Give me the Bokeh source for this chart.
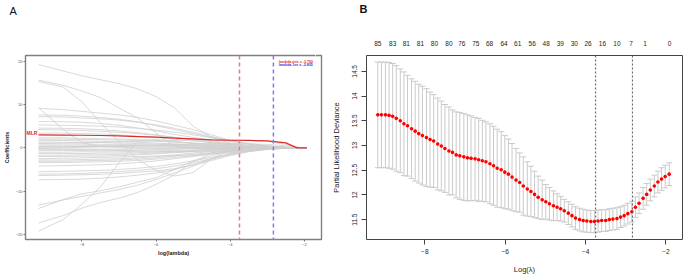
from bokeh.plotting import figure
from bokeh.layouts import row
from bokeh.models import Span, Label, LinearAxis, FixedTicker, Range1d, Title
from bokeh.embed import file_html
from bokeh.resources import INLINE

# ---------------- Panel A: coefficient paths ----------------
path_loglambda = [-9.17, -8.5, -8.0, -7.5, -7.0, -6.5, -6.0, -5.5, -5.0, -4.5, -4.0, -3.5, -3.0, -2.5, -2.2, -1.93]

mlr_coef = [3.0, 2.95, 2.9, 2.85, 2.75, 2.6, 2.45, 2.25, 2.05, 1.85, 1.75, 1.7, 1.6, 1.15, 0.0, 0.0]

coef_l1 = [19.2, 17.7, 16.6, 15.7, 14.8, 13.6, 11.8, 9.2, 5.0, 2.4, 1.1, 0.5, 0.2, 0.0, 0.0, 0.0]
coef_l2 = [15.6, 14.4, 13.1, 11.6, 9.2, 6.9, 3.4, 0.3, 0.0, 0.0, 0.0, 0.0, 0.0, 0.0, 0.0, 0.0]
coef_l3 = [15.3, 14.0, 10.6, 5.8, 1.4, -2.7, -5.2, -6.5, -5.7, -2.5, -0.5, 0.0, 0.0, 0.0, 0.0, 0.0]
coef_l4 = [9.25, 4.2, 1.2, 0.3, 0.1, 0.0, 0.0, 0.0, 0.0, 0.0, 0.0, 0.0, 0.0, 0.0, 0.0, 0.0]
coef_l5 = [9.1, 8.8, 8.4, 8.0, 7.6, 7.0, 6.2, 5.2, 4.2, 3.0, 1.7, 0.9, 0.4, 0.1, 0.0, 0.0]
coef_p1 = [7.6, 7.5, 7.3, 7.0, 6.6, 6.0, 5.1, 4.2, 3.3, 2.4, 1.5, 0.8, 0.3, 0.0, 0.0, 0.0]
coef_p2 = [7.2, 7.1, 6.9, 6.7, 6.4, 5.9, 5.3, 4.5, 3.6, 2.6, 1.7, 0.9, 0.4, 0.1, 0.0, 0.0]
coef_p3 = [6.1, 6.0, 5.9, 5.6, 5.2, 4.6, 3.9, 3.1, 2.4, 1.7, 1.0, 0.5, 0.2, 0.0, 0.0, 0.0]
coef_p4 = [5.3, 5.2, 5.1, 5.0, 4.8, 4.5, 4.1, 3.6, 3.0, 2.3, 1.6, 1.0, 0.5, 0.1, 0.0, 0.0]
coef_p5 = [4.55, 4.5, 4.4, 4.2, 3.9, 3.5, 3.0, 2.4, 1.8, 1.2, 0.7, 0.3, 0.1, 0.0, 0.0, 0.0]
coef_p6 = [4.2, 4.1, 4.0, 3.8, 3.6, 3.3, 2.9, 2.4, 1.9, 1.4, 0.9, 0.5, 0.2, 0.0, 0.0, 0.0]
coef_p7 = [3.4, 3.4, 3.3, 3.2, 3.0, 2.7, 2.4, 2.0, 1.6, 1.2, 0.8, 0.5, 0.2, 0.0, 0.0, 0.0]
coef_p8 = [2.3, 2.3, 2.2, 2.1, 2.0, 1.9, 1.7, 1.4, 1.1, 0.8, 0.5, 0.3, 0.1, 0.0, 0.0, 0.0]
coef_p9 = [2.0, 2.0, 1.9, 1.9, 1.8, 1.7, 1.5, 1.3, 1.1, 0.9, 0.7, 0.5, 0.3, 0.1, 0.0, 0.0]
coef_p10 = [1.7, 1.7, 1.6, 1.5, 1.4, 1.3, 1.1, 0.9, 0.7, 0.5, 0.3, 0.1, 0.0, 0.0, 0.0, 0.0]
coef_p11 = [1.3, 1.3, 1.2, 1.2, 1.1, 1.0, 0.9, 0.8, 0.7, 0.6, 0.5, 0.4, 0.3, 0.1, 0.0, 0.0]
coef_p12 = [0.9, 0.9, 0.9, 0.8, 0.8, 0.7, 0.6, 0.5, 0.4, 0.3, 0.2, 0.1, 0.0, 0.0, 0.0, 0.0]
coef_p13 = [0.6, 0.6, 0.6, 0.5, 0.5, 0.5, 0.4, 0.4, 0.3, 0.2, 0.1, 0.0, 0.0, 0.0, 0.0, 0.0]
coef_p14 = [0.3, 0.3, 0.3, 0.3, 0.3, 0.2, 0.2, 0.2, 0.1, 0.1, 0.0, 0.0, 0.0, 0.0, 0.0, 0.0]
coef_q1 = [1.0, 1.1, 1.2, 1.3, 1.4, 1.5, 1.6, 1.7, 1.8, 1.8, 1.8, 1.7, 1.5, 0.8, 0.2, 0.0]
coef_q3 = [0.1, 0.2, 0.3, 0.4, 0.5, 0.6, 0.7, 0.8, 0.9, 1.0, 1.0, 0.9, 0.8, 0.5, 0.1, 0.0]
coef_q4 = [-0.1, 0.0, 0.1, 0.2, 0.3, 0.4, 0.5, 0.5, 0.6, 0.6, 0.6, 0.5, 0.4, 0.2, 0.0, 0.0]
coef_n1 = [-0.3, -0.3, -0.3, -0.3, -0.3, -0.2, -0.2, -0.2, -0.1, -0.1, 0.0, 0.0, 0.0, 0.0, 0.0, 0.0]
coef_n2 = [-0.6, -0.6, -0.6, -0.5, -0.5, -0.5, -0.4, -0.3, -0.2, -0.1, 0.0, 0.0, 0.0, 0.0, 0.0, 0.0]
coef_n3 = [-1.0, -1.0, -0.9, -0.9, -0.9, -0.8, -0.7, -0.6, -0.5, -0.3, -0.2, -0.1, 0.0, 0.0, 0.0, 0.0]
coef_n4 = [-1.3, -1.3, -1.3, -1.2, -1.2, -1.1, -1.0, -0.8, -0.6, -0.4, -0.2, -0.1, 0.0, 0.0, 0.0, 0.0]
coef_n5 = [-1.7, -1.7, -1.6, -1.6, -1.5, -1.4, -1.2, -1.0, -0.8, -0.6, -0.4, -0.2, -0.1, 0.0, 0.0, 0.0]
coef_n6 = [-2.0, -2.0, -1.9, -1.9, -1.8, -1.6, -1.4, -1.1, -0.8, -0.5, -0.3, -0.1, 0.0, 0.0, 0.0, 0.0]
coef_n7 = [-2.8, -2.8, -2.7, -2.6, -2.5, -2.3, -2.0, -1.6, -1.2, -0.8, -0.5, -0.2, 0.0, 0.0, 0.0, 0.0]
coef_n8 = [-3.1, -3.1, -3.0, -2.9, -2.8, -2.6, -2.3, -1.9, -1.5, -1.1, -0.7, -0.3, -0.1, 0.0, 0.0, 0.0]
coef_n9 = [-3.4, -3.4, -3.3, -3.2, -3.1, -2.9, -2.6, -2.2, -1.8, -1.3, -0.8, -0.4, -0.1, 0.0, 0.0, 0.0]
coef_n10 = [-4.2, -4.1, -4.0, -3.9, -3.7, -3.4, -3.0, -2.5, -2.0, -1.4, -0.9, -0.4, -0.1, 0.0, 0.0, 0.0]
coef_n11 = [-5.5, -5.4, -5.3, -5.2, -5.0, -4.7, -4.3, -3.7, -3.0, -2.2, -1.4, -0.7, -0.2, 0.0, 0.0, 0.0]
coef_n12 = [-6.05, -6.0, -5.9, -5.7, -5.5, -5.2, -4.8, -4.2, -3.4, -2.5, -1.6, -0.8, -0.3, 0.0, 0.0, 0.0]
coef_n13 = [-6.4, -6.3, -6.2, -6.1, -5.9, -5.6, -5.3, -4.8, -4.0, -2.9, -1.8, -0.9, -0.3, 0.0, 0.0, 0.0]
coef_n14 = [-7.35, -7.3, -7.2, -7.0, -6.7, -6.3, -5.8, -5.0, -3.8, -2.5, -1.4, -0.6, -0.2, 0.0, 0.0, 0.0]
coef_q2 = [-2.5, -2.4, -2.3, -2.2, -2.1, -2.0, -1.9, -1.8, -1.6, -1.4, -1.1, -0.8, -0.4, -0.1, 0.0, 0.0]
coef_q5 = [-0.2, -0.3, -0.4, -0.5, -0.6, -0.7, -0.8, -0.9, -0.9, -0.9, -0.8, -0.6, -0.3, -0.1, 0.0, 0.0]
coef_m1 = [-13.2, -12.0, -11.2, -10.4, -9.6, -8.6, -7.3, -5.8, -4.2, -2.6, -1.2, -0.3, 0.0, 0.0, 0.0, 0.0]
coef_m2 = [-17.3, -15.6, -13.9, -12.6, -11.6, -10.3, -8.4, -6.2, -3.2, -1.2, -0.3, 0.0, 0.0, 0.0, 0.0, 0.0]
coef_m3 = [-19.2, -16.5, -13.0, -9.0, -3.5, 1.5, 2.0, 1.5, 1.0, 0.6, 0.3, 0.1, 0.0, 0.0, 0.0, 0.0]
coef_m4 = [-14.0, -11.9, -10.6, -9.9, -9.0, -7.9, -6.9, -5.0, -3.0, -1.8, -0.8, -0.2, 0.0, 0.0, 0.0, 0.0]

gray_paths = [coef_l1, coef_l2, coef_l3, coef_l4, coef_l5,
              coef_p1, coef_p2, coef_p3, coef_p4, coef_p5, coef_p6, coef_p7,
              coef_p8, coef_p9, coef_p10, coef_p11, coef_p12, coef_p13, coef_p14,
              coef_q1, coef_q3, coef_q4,
              coef_n1, coef_n2, coef_n3, coef_n4, coef_n5, coef_n6, coef_n7,
              coef_n8, coef_n9, coef_n10, coef_n11, coef_n12, coef_n13, coef_n14,
              coef_q2, coef_q5, coef_m1, coef_m2, coef_m3, coef_m4]

lambda_min = -3.750
lambda_1se = -2.835

# ---------------- Panel B: cross-validation curve ----------------
cv_loglambda = [-9.17, -9.08, -8.98, -8.89, -8.80, -8.71, -8.61, -8.52, -8.43, -8.33,
                -8.24, -8.15, -8.06, -7.96, -7.87, -7.78, -7.68, -7.59, -7.50, -7.40,
                -7.31, -7.22, -7.13, -7.03, -6.94, -6.85, -6.75, -6.66, -6.57, -6.48,
                -6.38, -6.29, -6.20, -6.10, -6.01, -5.92, -5.83, -5.73, -5.64, -5.55,
                -5.45, -5.36, -5.27, -5.18, -5.08, -4.99, -4.90, -4.80, -4.71, -4.62,
                -4.53, -4.43, -4.34, -4.25, -4.15, -4.06, -3.97, -3.87, -3.78, -3.69,
                -3.60, -3.50, -3.41, -3.32, -3.22, -3.13, -3.04, -2.95, -2.85, -2.76,
                -2.67, -2.57, -2.48, -2.39, -2.29, -2.20, -2.11, -2.02, -1.92]
cv_mean = [13.62, 13.62, 13.62, 13.61, 13.59, 13.55, 13.50, 13.44, 13.40, 13.34,
           13.29, 13.24, 13.20, 13.16, 13.12, 13.09, 13.03, 12.99, 12.94, 12.89,
           12.86, 12.81, 12.79, 12.77, 12.75, 12.74, 12.73, 12.71, 12.69, 12.67,
           12.63, 12.59, 12.54, 12.51, 12.46, 12.42, 12.36, 12.30, 12.25, 12.18,
           12.12, 12.07, 12.01, 11.95, 11.90, 11.86, 11.82, 11.78, 11.75, 11.72,
           11.68, 11.63, 11.58, 11.53, 11.50, 11.48, 11.47, 11.46, 11.46, 11.47,
           11.48, 11.48, 11.50, 11.51, 11.52, 11.55, 11.58, 11.62, 11.66, 11.75,
           11.83, 11.93, 12.01, 12.10, 12.18, 12.26, 12.32, 12.37, 12.42]
cv_se = [1.07, 1.07, 1.07, 1.07, 1.07, 1.07, 1.05, 1.05, 1.02, 1.01,
         1.01, 1.00, 1.00, 0.99, 0.96, 0.94, 0.93, 0.91, 0.89, 0.89,
         0.86, 0.87, 0.88, 0.88, 0.87, 0.86, 0.84, 0.84, 0.82, 0.81,
         0.81, 0.80, 0.79, 0.77, 0.74, 0.71, 0.68, 0.64, 0.60, 0.59,
         0.55, 0.51, 0.47, 0.43, 0.40, 0.35, 0.33, 0.30, 0.27, 0.25,
         0.23, 0.23, 0.23, 0.23, 0.23, 0.23, 0.225, 0.225, 0.225, 0.225,
         0.22, 0.22, 0.22, 0.22, 0.22, 0.21, 0.21, 0.21, 0.21, 0.21,
         0.21, 0.22, 0.22, 0.22, 0.22, 0.22, 0.23, 0.23, 0.23]

nz_positions = [-9.17, -8.80, -8.46, -8.11, -7.76, -7.40, -7.08, -6.73, -6.39, -6.03,
                -5.69, -5.33, -4.98, -4.63, -4.28, -3.94, -3.58, -3.22, -2.87, -2.52, -1.91]
nz_labels = ["85", "83", "81", "81", "80", "80", "76", "75", "68", "64",
             "61", "56", "48", "39", "30", "26", "16", "10", "7", "1", "0"]


def spacer_axis(size, at):
    # axis with one invisible tick and an empty label: it only reserves room above the frame
    ax = LinearAxis(ticker=FixedTicker(ticks=[at]), major_label_overrides={at: ""})
    ax.axis_line_color = None
    ax.major_tick_out = size
    ax.major_tick_in = 0
    ax.major_tick_line_color = "white"
    ax.minor_tick_out = 0
    ax.minor_tick_in = 0
    ax.minor_tick_line_color = None
    ax.major_label_standoff = 0
    ax.major_label_text_font_size = "1px"
    ax.major_label_text_color = None
    return ax


# =================== Panel A figure ===================
FA = "Liberation Sans"
pA = figure(width=328, height=276, output_backend="svg", toolbar_location=None,
            x_range=Range1d(-9.521, -1.538), y_range=Range1d(-21.12, 21.28),
            min_border_left=20, min_border_right=7, min_border_top=53, min_border_bottom=36)
pA.background_fill_color = "white"
pA.border_fill_color = "white"
pA.outline_line_color = "#808080"
pA.outline_line_width = 1.4
pA.xgrid.visible = False
pA.ygrid.visible = False

pA.multi_line(xs=[path_loglambda] * len(gray_paths), ys=gray_paths,
              line_color="#cfcfcf", line_width=0.8)
pA.line(path_loglambda, mlr_coef, line_color="#dd2b2b", line_width=1.2)

pA.add_layout(Span(location=lambda_min, dimension="height", line_color="#f07a7a",
                   line_dash="4 3", line_width=1.5))
pA.add_layout(Span(location=lambda_1se, dimension="height", line_color="#7d7dee",
                   line_dash="4 3", line_width=1.5))

pA.xaxis.ticker = FixedTicker(ticks=[-8, -6, -4, -2])
pA.yaxis.ticker = FixedTicker(ticks=[-20, -10, 0, 10, 20])
for ax in (pA.xaxis, pA.yaxis):
    ax.axis_line_color = None
    ax.major_tick_line_color = "#777777"
    ax.major_tick_out = 2
    ax.major_tick_in = 0
    ax.minor_tick_line_color = None
    ax.major_label_text_font = FA
    ax.major_label_text_font_size = "4px"
    ax.major_label_text_color = "#555555"
    ax.major_label_standoff = 1
    ax.axis_label_text_font = FA
    ax.axis_label_text_font_size = "5.5px"
    ax.axis_label_text_font_style = "bold"
    ax.axis_label_text_color = "#222222"
pA.xaxis.axis_label = "log(lambda)"
pA.yaxis.axis_label = "Coefficients"
pA.xaxis.axis_label_standoff = 1
pA.yaxis.axis_label_standoff = 3

pA.add_layout(Label(x=-9.20, y=3.37, text="MLR", text_align="right", text_baseline="middle",
                    text_font=FA, text_font_size="5px", text_font_style="bold",
                    text_color="#dd2b2b"))
pA.add_layout(Label(x=-2.69, y=19.76, text="lambda.min = " + f"{lambda_min:.3f}",
                    text_align="left", text_baseline="middle", text_font=FA,
                    text_font_size="3.6px", text_font_style="bold", text_color="#e03030"))
pA.add_layout(Label(x=-2.69, y=19.04, text="lambda.1se = " + f"{lambda_1se:.3f}",
                    text_align="left", text_baseline="middle", text_font=FA,
                    text_font_size="3.6px", text_font_style="bold", text_color="#3030e0"))
pA.add_layout(spacer_axis(38, -1.7), "above")
pA.add_layout(Title(text="A", align="left", vertical_align="middle", offset=-16, standoff=0,
                    text_font=FA, text_font_size="11px", text_font_style="normal",
                    text_color="#111111"), "above")

# =================== Panel B figure ===================
pB = figure(width=357, height=276, output_backend="svg", toolbar_location=None,
            x_range=Range1d(-9.451, -1.589), y_range=Range1d(11.097, 14.822),
            min_border_left=34, min_border_right=3, min_border_top=55, min_border_bottom=36)
pB.background_fill_color = "white"
pB.border_fill_color = "white"
pB.outline_line_color = "#444444"
pB.outline_line_width = 1
pB.xgrid.visible = False
pB.ygrid.visible = False

cv_upper = [m + s for m, s in zip(cv_mean, cv_se)]
cv_lower = [m - s for m, s in zip(cv_mean, cv_se)]

pB.segment(x0=cv_loglambda, y0=cv_lower, x1=cv_loglambda, y1=cv_upper,
           line_color="#cacaca", line_width=1)
pB.scatter(cv_loglambda, cv_upper, marker="dash", size=6, line_color="#cacaca", line_width=1)
pB.scatter(cv_loglambda, cv_lower, marker="dash", size=6, line_color="#cacaca", line_width=1)
pB.scatter(cv_loglambda, cv_mean, marker="circle", size=3.6, fill_color="#ff0000",
           line_color="#ff0000", line_width=0)

pB.add_layout(Span(location=lambda_min, dimension="height", line_color="#555555",
                   line_dash="2 2", line_width=1))
pB.add_layout(Span(location=lambda_1se, dimension="height", line_color="#555555",
                   line_dash="2 2", line_width=1))

FB = "Liberation Sans"
pB.xaxis.ticker = FixedTicker(ticks=[-8, -6, -4, -2])
pB.yaxis.ticker = FixedTicker(ticks=[11.5, 12.0, 12.5, 13.0, 13.5, 14.0, 14.5])
pB.yaxis.major_label_orientation = "vertical"
for ax in (pB.xaxis, pB.yaxis):
    ax.axis_line_color = None
    ax.major_tick_line_color = "#444444"
    ax.major_tick_out = 5
    ax.major_tick_in = 0
    ax.minor_tick_line_color = None
    ax.major_label_text_font = FB
    ax.major_label_text_font_size = "6.5px"
    ax.major_label_text_color = "#222222"
    ax.major_label_standoff = 4
    ax.axis_label_text_font = FB
    ax.axis_label_text_font_size = "7.5px"
    ax.axis_label_text_font_style = "normal"
    ax.axis_label_text_color = "#222222"
pB.xaxis.axis_label = "Log(λ)"
pB.yaxis.axis_label = "Partial Likelihood Deviance"
pB.xaxis.axis_label_standoff = 8
pB.yaxis.axis_label_standoff = 9

top_axis = LinearAxis(ticker=FixedTicker(ticks=nz_positions),
                      major_label_overrides={p: s for p, s in zip(nz_positions, nz_labels)})
top_axis.axis_line_color = None
top_axis.major_tick_line_color = None
top_axis.major_tick_out = 0
top_axis.major_tick_in = 0
top_axis.minor_tick_line_color = None
top_axis.major_label_text_font = FB
top_axis.major_label_text_font_size = "6.5px"
top_axis.major_label_text_color = "#222222"
top_axis.major_label_standoff = 10
pB.add_layout(top_axis, "above")
pB.add_layout(spacer_axis(22, -1.7), "above")
pB.add_layout(Title(text="B", align="left", vertical_align="middle", offset=-7, standoff=0,
                    text_font=FB, text_font_size="11px", text_font_style="bold",
                    text_color="#111111"), "above")

layout = row(pA, pB)
open("out.html", "w").write(file_html(layout, INLINE))
